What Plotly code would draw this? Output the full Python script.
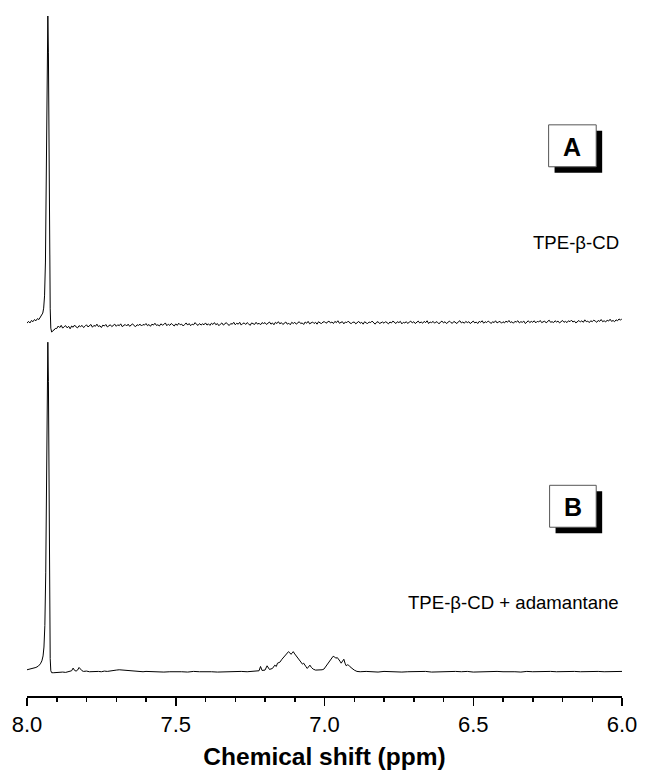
import plotly.graph_objects as go

# ---------------- data ----------------
# Spectrum A (TPE-beta-CD): normalised intensity, main peak = 100
a_head_ppm = [8.000, 7.995, 7.990, 7.985, 7.980, 7.975, 7.970, 7.965, 7.960, 7.955,
              7.951, 7.947, 7.944, 7.941, 7.938, 7.935, 7.932, 7.930, 7.928, 7.926,
              7.924, 7.922, 7.920, 7.917, 7.913, 7.909, 7.905]
a_head_int = [0.1, 0.7, 0.2, 1.0, 0.6, 1.3, 0.9, 1.6, 1.3, 2.1,
              2.4, 3.4, 5.0, 9.0, 20.0, 45.0, 80.0, 100.0, 88.0, 50.0,
              20.0, 5.0, -1.5, -2.8, -2.3, -2.1, -1.6]

a_base_ppm = [
    7.900, 7.895, 7.890, 7.885, 7.880, 7.875, 7.870, 7.865, 7.860, 7.855,
    7.850, 7.845, 7.840, 7.835, 7.830, 7.825, 7.820, 7.815, 7.810, 7.805,
    7.800, 7.795, 7.790, 7.785, 7.780, 7.775, 7.770, 7.765, 7.760, 7.755,
    7.750, 7.745, 7.740, 7.735, 7.730, 7.725, 7.720, 7.715, 7.710, 7.705,
    7.700, 7.695, 7.690, 7.685, 7.680, 7.675, 7.670, 7.665, 7.660, 7.655,
    7.650, 7.645, 7.640, 7.635, 7.630, 7.625, 7.620, 7.615, 7.610, 7.605,
    7.600, 7.595, 7.590, 7.585, 7.580, 7.575, 7.570, 7.565, 7.560, 7.555,
    7.550, 7.545, 7.540, 7.535, 7.530, 7.525, 7.520, 7.515, 7.510, 7.505,
    7.500, 7.495, 7.490, 7.485, 7.480, 7.475, 7.470, 7.465, 7.460, 7.455,
    7.450, 7.445, 7.440, 7.435, 7.430, 7.425, 7.420, 7.415, 7.410, 7.405,
    7.400, 7.395, 7.390, 7.385, 7.380, 7.375, 7.370, 7.365, 7.360, 7.355,
    7.350, 7.345, 7.340, 7.335, 7.330, 7.325, 7.320, 7.315, 7.310, 7.305,
    7.300, 7.295, 7.290, 7.285, 7.280, 7.275, 7.270, 7.265, 7.260, 7.255,
    7.250, 7.245, 7.240, 7.235, 7.230, 7.225, 7.220, 7.215, 7.210, 7.205,
    7.200, 7.195, 7.190, 7.185, 7.180, 7.175, 7.170, 7.165, 7.160, 7.155,
    7.150, 7.145, 7.140, 7.135, 7.130, 7.125, 7.120, 7.115, 7.110, 7.105,
    7.100, 7.095, 7.090, 7.085, 7.080, 7.075, 7.070, 7.065, 7.060, 7.055,
    7.050, 7.045, 7.040, 7.035, 7.030, 7.025, 7.020, 7.015, 7.010, 7.005,
    7.000, 6.995, 6.990, 6.985, 6.980, 6.975, 6.970, 6.965, 6.960, 6.955,
    6.950, 6.945, 6.940, 6.935, 6.930, 6.925, 6.920, 6.915, 6.910, 6.905,
    6.900, 6.895, 6.890, 6.885, 6.880, 6.875, 6.870, 6.865, 6.860, 6.855,
    6.850, 6.845, 6.840, 6.835, 6.830, 6.825, 6.820, 6.815, 6.810, 6.805,
    6.800, 6.795, 6.790, 6.785, 6.780, 6.775, 6.770, 6.765, 6.760, 6.755,
    6.750, 6.745, 6.740, 6.735, 6.730, 6.725, 6.720, 6.715, 6.710, 6.705,
    6.700, 6.695, 6.690, 6.685, 6.680, 6.675, 6.670, 6.665, 6.660, 6.655,
    6.650, 6.645, 6.640, 6.635, 6.630, 6.625, 6.620, 6.615, 6.610, 6.605,
    6.600, 6.595, 6.590, 6.585, 6.580, 6.575, 6.570, 6.565, 6.560, 6.555,
    6.550, 6.545, 6.540, 6.535, 6.530, 6.525, 6.520, 6.515, 6.510, 6.505,
    6.500, 6.495, 6.490, 6.485, 6.480, 6.475, 6.470, 6.465, 6.460, 6.455,
    6.450, 6.445, 6.440, 6.435, 6.430, 6.425, 6.420, 6.415, 6.410, 6.405,
    6.400, 6.395, 6.390, 6.385, 6.380, 6.375, 6.370, 6.365, 6.360, 6.355,
    6.350, 6.345, 6.340, 6.335, 6.330, 6.325, 6.320, 6.315, 6.310, 6.305,
    6.300, 6.295, 6.290, 6.285, 6.280, 6.275, 6.270, 6.265, 6.260, 6.255,
    6.250, 6.245, 6.240, 6.235, 6.230, 6.225, 6.220, 6.215, 6.210, 6.205,
    6.200, 6.195, 6.190, 6.185, 6.180, 6.175, 6.170, 6.165, 6.160, 6.155,
    6.150, 6.145, 6.140, 6.135, 6.130, 6.125, 6.120, 6.115, 6.110, 6.105,
    6.100, 6.095, 6.090, 6.085, 6.080, 6.075, 6.070, 6.065, 6.060, 6.055,
    6.050, 6.045, 6.040, 6.035, 6.030, 6.025, 6.020, 6.015, 6.010, 6.005,
    6.000]
a_base_int = [
    -1.6, -0.8, -1.3, -0.6, -1.5, -1.0, -0.7, -1.4, -0.9, -1.7,
    -0.8, -1.2, -0.5, -1.1, -1.4, -0.7, -1.0, -0.6, -1.3, -0.9,
    -0.4, -1.1, -0.8, -0.3, -1.2, -0.6, -0.9, -0.2, -1.0, -0.7,
    -1.3, -0.5, -0.8, -0.3, -1.1, -0.6, -0.4, -1.0, -0.7, -0.2,
    -0.9, -0.4, -0.7, -0.1, -1.0, -0.5, -0.3, -0.8, -0.2, -0.9,
    -0.6, -0.1, -0.7, -1.0, -0.4, -0.6, -0.2, -0.8, -0.3, -0.5,
    0.0, -0.7, -0.3, -0.9, -0.2, -0.5, 0.1, -0.6, -0.4, -0.8,
    -0.1, -0.5, -0.3, 0.2, -0.7, -0.2, -0.6, 0.0, -0.4, -0.8,
    -0.1, -0.6, 0.1, -0.4, -0.2, -0.8, -0.3, 0.2, -0.5, 0.0,
    -0.7, -0.2, -0.4, 0.3, -0.3, -0.6, 0.0, -0.5, -0.1, -0.4,
    0.2, -0.5, -0.1, -0.6, 0.1, -0.3, 0.3, -0.4, 0.0, -0.7,
    -0.2, 0.2, -0.5, -0.1, 0.3, -0.3, -0.6, 0.0, -0.2, 0.4,
    -0.4, 0.1, -0.2, 0.4, -0.5, 0.0, 0.2, -0.3, 0.3, -0.1,
    -0.6, 0.2, 0.0, -0.3, 0.4, -0.2, 0.1, -0.4, 0.3, 0.0,
    0.3, -0.3, 0.1, 0.5, -0.2, 0.2, -0.4, 0.4, 0.0, 0.6,
    -0.1, 0.3, -0.3, 0.2, 0.5, -0.2, 0.1, -0.4, 0.4, 0.0,
    0.4, -0.2, 0.3, 0.6, 0.0, 0.2, -0.3, 0.5, 0.1, 0.7,
    -0.1, 0.3, 0.5, 0.0, 0.4, -0.2, 0.6, 0.2, 0.0, 0.5,
    0.6, 0.1, 0.4, 0.8, 0.2, 0.5, 0.0, 0.7, 0.3, 0.9,
    0.1, 0.4, 0.6, -0.1, 0.5, 0.3, 0.8, 0.2, 0.0, 0.4,
    0.5, -0.1, 0.3, 0.7, 0.1, 0.4, -0.2, 0.6, 0.2, 0.0,
    0.5, 0.3, 0.8, 0.1, -0.2, 0.4, 0.6, 0.0, 0.3, 0.5,
    0.1, 0.6, 0.3, -0.1, 0.5, 0.2, 0.8, 0.4, 0.0, 0.6,
    0.3, 0.7, -0.1, 0.4, 0.2, 0.6, 0.0, 0.5, 0.8, 0.2,
    0.6, 0.0, 0.4, 0.8, 0.2, 0.5, 0.1, 0.7, 0.3, 0.9,
    0.0, 0.5, 0.3, 0.7, 0.1, 0.6, 0.4, -0.1, 0.5, 0.8,
    0.2, 0.6, 0.0, 0.5, 0.8, 0.3, 0.1, 0.7, 0.4, 0.0,
    0.6, 0.9, 0.2, 0.5, 0.1, 0.7, 0.3, 0.6, 0.0, 0.4,
    0.8, 0.2, 0.5, 0.0, 0.7, 0.4, 0.9, 0.1, 0.6, 0.3,
    0.8, 0.5, 0.0, 0.6, 0.3, 0.9, 0.2, 0.5, 0.7, 0.1,
    0.6, 0.2, 0.8, 0.4, 1.0, 0.3, 0.6, 0.1, 0.7, 0.5,
    0.9, 0.2, 0.6, 0.4, 0.8, 0.0, 0.5, 0.9, 0.3, 0.7,
    0.4, 0.9, 0.2, 0.7, 0.5, 1.0, 0.3, 0.6, 0.8, 0.2,
    0.7, 1.1, 0.4, 0.6, 0.3, 0.9, 0.5, 0.8, 0.2, 0.6,
    1.0, 0.4, 0.7, 0.3, 0.9, 0.6, 1.1, 0.5, 0.8, 0.2,
    0.7, 1.0, 0.5, 0.9, 0.4, 1.2, 0.6, 0.8, 0.3, 0.9,
    0.6, 1.1, 0.8, 0.4, 1.0, 0.7, 1.3, 0.6, 0.9, 0.5,
    1.1, 0.8, 1.4, 0.7, 1.0, 0.6, 1.2, 0.9, 1.5, 1.1,
    1.6]

# Spectrum B (TPE-beta-CD + adamantane)
b_ppm = [8.000, 7.990, 7.980, 7.970, 7.962, 7.955, 7.950, 7.946, 7.943, 7.940,
         7.937, 7.934, 7.931, 7.930, 7.928, 7.926, 7.924, 7.922, 7.920, 7.917,
         7.910, 7.900, 7.89, 7.88, 7.87, 7.86, 7.85, 7.845, 7.84, 7.835,
         7.83, 7.825, 7.82, 7.815, 7.81, 7.80, 7.79, 7.78, 7.77, 7.76,
         7.75, 7.74, 7.73, 7.72, 7.71, 7.70, 7.69, 7.68, 7.67, 7.66,
         7.65, 7.64, 7.63, 7.62, 7.61, 7.60, 7.58, 7.56, 7.54, 7.52,
         7.50, 7.48, 7.46, 7.44, 7.42, 7.40, 7.38, 7.36, 7.34, 7.32,
         7.30, 7.28, 7.26, 7.24, 7.23, 7.22, 7.215, 7.21, 7.20, 7.193,
         7.185, 7.175, 7.167, 7.162, 7.158, 7.150, 7.143, 7.135, 7.128, 7.121,
         7.117, 7.113, 7.109, 7.105, 7.100, 7.094, 7.089, 7.085, 7.080, 7.074,
         7.070, 7.067, 7.062, 7.058, 7.053, 7.049, 7.044, 7.038, 7.030, 7.024,
         7.015, 7.008, 7.002, 6.997, 6.993, 6.985, 6.978, 6.971, 6.966, 6.962,
         6.957, 6.952, 6.948, 6.944, 6.940, 6.935, 6.931, 6.927, 6.923, 6.919,
         6.914, 6.908, 6.900, 6.891, 6.880, 6.86, 6.84, 6.82, 6.80, 6.78,
         6.76, 6.74, 6.72, 6.70, 6.68, 6.66, 6.64, 6.62, 6.60, 6.58,
         6.56, 6.54, 6.52, 6.50, 6.48, 6.46, 6.44, 6.42, 6.40, 6.38,
         6.36, 6.34, 6.32, 6.30, 6.28, 6.26, 6.24, 6.22, 6.20, 6.18,
         6.16, 6.14, 6.12, 6.10, 6.08, 6.06, 6.04, 6.02, 6.00]
b_int = [0.6, 0.8, 1.0, 1.3, 1.7, 2.4, 3.3, 4.8, 7.5, 14.0,
         30.0, 60.0, 92.0, 100.0, 88.0, 55.0, 18.0, 4.0, 0.3, -0.3,
         -0.3, -0.2, -0.2, -0.1, -0.2, 0.0, 0.3, 1.1, 0.4, 0.2,
         0.5, 1.3, 0.7, 0.3, 0.1, 0.2, 0.0, 0.1, 0.0, 0.1,
         0.0, 0.2, 0.1, 0.3, 0.3, 0.5, 0.6, 0.5, 0.4, 0.3,
         0.2, 0.1, 0.0, 0.1, 0.0, 0.1, 0.0, 0.1, -0.1, 0.0,
         0.1, 0.0, -0.1, 0.1, 0.0, 0.1, 0.0, -0.1, 0.0, 0.1,
         0.0, 0.1, 0.0, 0.2, 0.1, 0.3, 1.6, 0.4, 0.5, 1.8,
         0.7, 1.0, 2.0, 1.6, 2.6, 2.9, 3.8, 4.6, 5.2, 6.1,
         5.8, 5.3, 5.6, 6.1, 5.4, 4.7, 4.3, 3.8, 3.1, 2.3,
         2.6, 2.0, 1.5, 1.0, 1.5, 2.0, 1.3, 0.8, 0.5, 0.5,
         0.6, 0.6, 0.8, 1.4, 2.0, 3.0, 4.0, 4.7, 4.5, 4.1,
         4.3, 3.8, 3.2, 2.6, 3.1, 3.8, 2.6, 1.8, 2.1, 2.0,
         1.5, 1.0, 0.5, 0.1, 0.0, 0.1, 0.0, -0.1, 0.1, 0.0,
         0.1, -0.1, 0.0, 0.1, 0.0, 0.1, -0.1, 0.0, 0.1, 0.0,
         0.1, 0.0, 0.1, -0.1, 0.0, 0.1, 0.0, 0.1, 0.0, 0.1,
         0.0, -0.1, 0.1, 0.0, 0.1, 0.0, 0.1, 0.0, 0.1, 0.0,
         0.1, 0.0, 0.1, 0.0, 0.1, 0.0, 0.1, 0.0, 0.1]

tick_vals = [8.0, 7.5, 7.0, 6.5, 6.0]
tick_text = ["8.0", "7.5", "7.0", "6.5", "6.0"]
label_a = "TPE-β-CD"
label_b = "TPE-β-CD + adamantane"
panel_a = "A"
panel_b = "B"

# ---------------- figure ----------------
W, H = 645, 774
ML, MR, MT, MB = 27, 18, 8, 77
PW, PH = W - ML - MR, H - MT - MB

def px(xp):
    return (xp - ML) / PW

def py(yp):
    return (H - MB - yp) / PH

split = py(338)

fig = go.Figure()
fig.add_trace(go.Scatter(x=b_ppm, y=b_int, mode="lines",
                         line=dict(color="black", width=1), xaxis="x", yaxis="y",
                         hoverinfo="skip"))
fig.add_trace(go.Scatter(x=a_head_ppm + a_base_ppm, y=a_head_int + a_base_int, mode="lines",
                         line=dict(color="black", width=1), xaxis="x", yaxis="y2",
                         hoverinfo="skip"))

font_fam = "Liberation Sans, Arial, sans-serif"

fig.update_layout(
    width=W, height=H,
    margin=dict(l=ML, r=MR, t=MT, b=MB),
    paper_bgcolor="white", plot_bgcolor="white",
    showlegend=False,
    font=dict(family=font_fam, color="black"),
    xaxis=dict(range=[8.0, 6.0], showgrid=False, zeroline=False,
               showline=True, linecolor="black", linewidth=1.5,
               ticks="outside", ticklen=8, tickwidth=1.5, tickcolor="black",
               tickvals=tick_vals, ticktext=tick_text,
               tickfont=dict(size=22, family=font_fam),
               minor=dict(dtick=0.1, tick0=8.0, ticks="outside", ticklen=4,
                          tickwidth=1.5, tickcolor="black", showgrid=False),
               title=dict(text="<b>Chemical shift (ppm)</b>",
                          font=dict(size=24.5, family=font_fam), standoff=12),
               anchor="y"),
    yaxis=dict(domain=[0, split], range=[-7.36, 101.42], visible=False,
               showgrid=False, zeroline=False),
    yaxis2=dict(domain=[split, 1], range=[-4.545, 102.6], visible=False,
                showgrid=False, zeroline=False, anchor="x"),
)

shapes = []
annotations = []
for (x0, y0, x1, y1, letter) in [(553, 125, 601, 167, panel_a), (554, 486, 601, 528, panel_b)]:
    shapes.append(dict(type="rect", xref="paper", yref="paper",
                       x0=px(x0 + 6), x1=px(x1 + 6), y0=py(y1 + 6), y1=py(y0 + 6),
                       fillcolor="black", line=dict(width=0), layer="above"))
    shapes.append(dict(type="rect", xref="paper", yref="paper",
                       x0=px(x0), x1=px(x1), y0=py(y1), y1=py(y0),
                       fillcolor="white", line=dict(color="#555555", width=1), layer="above"))
    annotations.append(dict(xref="paper", yref="paper", x=px((x0 + x1) / 2), y=py((y0 + y1) / 2 + 1),
                            text="<b>%s</b>" % letter, showarrow=False,
                            font=dict(size=25, family=font_fam, color="black"),
                            xanchor="center", yanchor="middle"))

annotations.append(dict(xref="paper", yref="paper", x=px(626), y=py(243), text=label_a,
                        showarrow=False, xanchor="right", yanchor="middle",
                        font=dict(size=18.6, family=font_fam, color="black")))
annotations.append(dict(xref="paper", yref="paper", x=px(626), y=py(603), text=label_b,
                        showarrow=False, xanchor="right", yanchor="middle",
                        font=dict(size=18.6, family=font_fam, color="black")))

fig.update_layout(shapes=shapes, annotations=annotations)
fig.write_html("out.html",
               config={"displayModeBar": False, "staticPlot": True},
               post_script="document.body.style.margin='0';document.body.style.overflow='hidden';")
